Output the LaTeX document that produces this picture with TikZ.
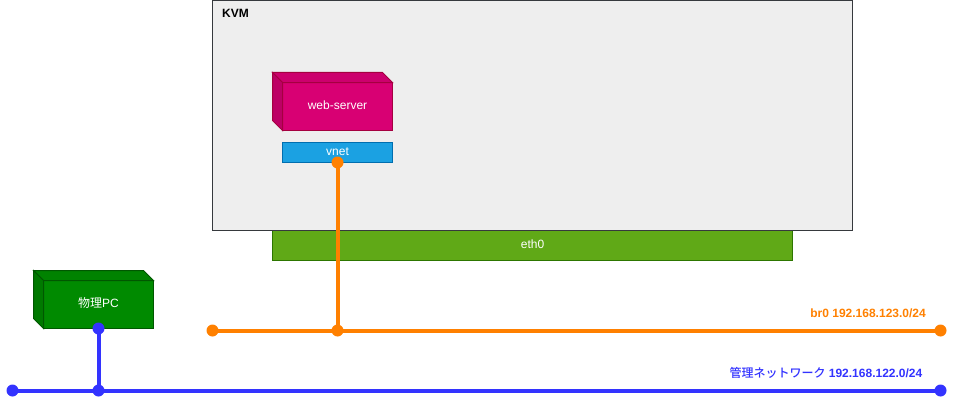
\documentclass[tikz,border=0pt]{standalone}
\usepackage{fontspec}
\setmainfont{Liberation Sans}
\newfontfamily\cjk{Noto Sans CJK JP}[BoldFont={Noto Sans CJK JP Medium}]
\usetikzlibrary{calc}
\definecolor{kvmfill}{HTML}{EEEEEE}
\definecolor{kvmline}{HTML}{36393D}
\definecolor{webfill}{HTML}{D80073}
\definecolor{webline}{HTML}{A50040}
\definecolor{webtop}{HTML}{CC006D}
\definecolor{webside}{HTML}{BD0065}
\definecolor{pcfill}{HTML}{008A00}
\definecolor{pcline}{HTML}{005700}
\definecolor{pctop}{HTML}{008200}
\definecolor{pcside}{HTML}{007900}
\definecolor{ethfill}{HTML}{60A917}
\definecolor{ethline}{HTML}{2D7600}
\definecolor{vnetfill}{HTML}{1BA1E2}
\definecolor{vnetline}{HTML}{006EAF}
\definecolor{brcolor}{HTML}{FF8000}
\definecolor{mgmtcolor}{HTML}{3333FF}
\tikzset{
  box/.style={draw,line width=1pt,outer sep=0pt,inner sep=0pt,text=white,text height=9pt,text depth=4pt,font=\fontsize{12}{14}\selectfont},
  dot/.style={circle,fill=#1,minimum size=12pt,inner sep=0pt,outer sep=0pt},
  wire/.style={line width=4pt,#1},
  netlabel/.style={anchor=east,inner sep=0pt,text=#1,font=\fontsize{12}{14}\selectfont\bfseries}
}
% back faces of a box: node name, top colour, side colour, line colour
\newcommand{\cubeback}[4]{
  \draw[line width=1pt,#4,fill=#2] (#1.north west) -- ++(-10,-10) -- ($(#1.north east)+(-10,-10)$) -- (#1.north east) -- cycle;
  \draw[line width=1pt,#4,fill=#3] (#1.north west) -- ++(-10,-10) -- ($(#1.south west)+(-10,-10)$) -- (#1.south west) -- cycle;
}
\begin{document}
\begin{tikzpicture}[x=1pt,y=-1pt]
  \useasboundingbox (0,0) rectangle (953,404);
  % kvm host
  \node[box,fill=ethfill,draw=ethline,minimum width=520pt,minimum height=30pt] (eth) at (532.5,245.5) {eth0};
  \node[box,fill=kvmfill,draw=kvmline,minimum width=640pt,minimum height=230pt] (kvm) at (532.5,115.5) {};
  \node[anchor=west,inner sep=0pt,font=\fontsize{12}{14}\selectfont\bfseries] (kvmlabel) at (222,13) {KVM};
  % guest
  \node[box,fill=webfill,draw=webline,minimum width=110pt,minimum height=48pt] (web) at (337.5,106.5) {web-server};
  \cubeback{web}{webtop}{webside}{webline}
  \node[box,fill=vnetfill,draw=vnetline,minimum width=110pt,minimum height=20pt] (vnet) at (337.5,152.5) {vnet};
  % physical pc
  \node[box,fill=pcfill,draw=pcline,minimum width=110pt,minimum height=48pt] (pc) at (98.5,304.5) {{\cjk 物理}PC};
  \cubeback{pc}{pctop}{pcside}{pcline}
  % connection points
  \foreach \name/\x/\y in {brl/212.5/330.5,brm/337.5/330.5,brr/940.5/330.5,vnetp/337.5/162.5}
    \node[dot=brcolor] (\name) at (\x,\y) {};
  \foreach \name/\x/\y in {mgl/12.5/390.5,mgm/98.5/390.5,mgr/940.5/390.5,pcp/98.5/328.5}
    \node[dot=mgmtcolor] (\name) at (\x,\y) {};
  % networks
  \draw[wire=brcolor] (brl.center) -- (brr.center);
  \draw[wire=brcolor] (vnetp.center) -- (brm.center);
  \draw[wire=mgmtcolor] (mgl.center) -- (mgr.center);
  \draw[wire=mgmtcolor] (pcp.center) -- (mgm.center);
  \node[netlabel=brcolor] (brlabel) at (926,313) {br0 192.168.123.0/24};
  \node[netlabel=mgmtcolor] (mglabel) at (922.5,373) {{\cjk 管理ネットワーク} 192.168.122.0/24};
\end{tikzpicture}
\end{document}
